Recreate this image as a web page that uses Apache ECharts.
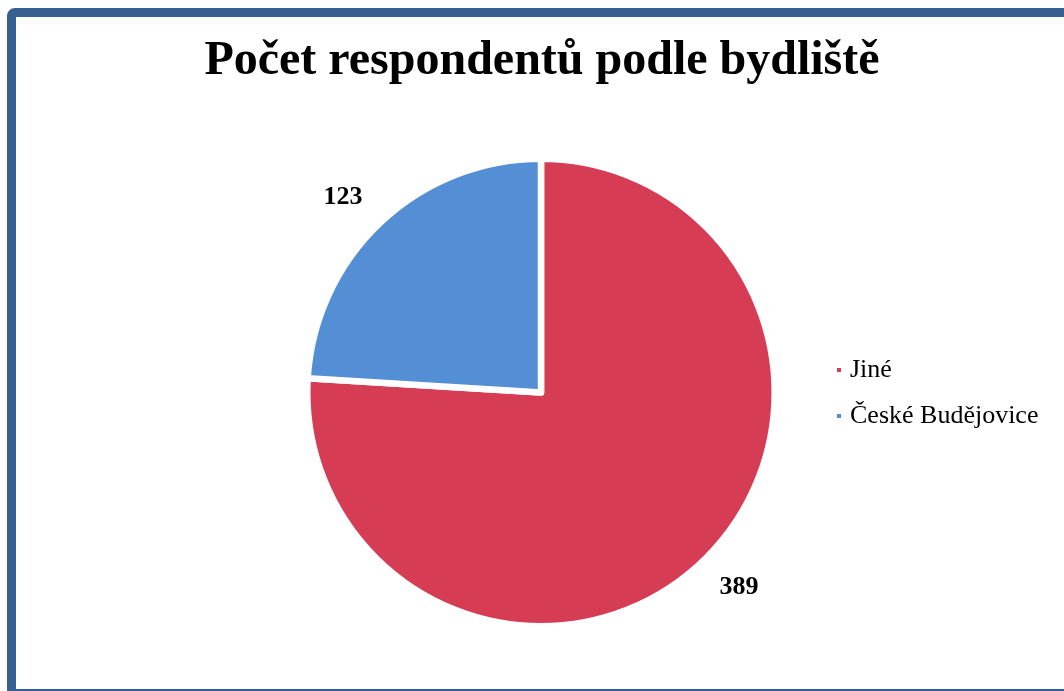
<!DOCTYPE html>
<html>
<head>
<meta charset="utf-8">
<title>Počet respondentů podle bydliště</title>
<script src="https://cdn.jsdelivr.net/npm/echarts@6/dist/echarts.min.js"></script>
<style>
  html, body {
    margin: 0;
    padding: 0;
    background: #fff;
    overflow: hidden;
  }
  .frame {
    position: absolute;
    left: 7px;
    top: 8px;
    width: 1080px;
    height: 672px;
    border: 9px solid #366092;
    border-radius: 8px;
  }
  #chart {
    position: absolute;
    left: 0;
    top: 0;
    width: 1064px;
    height: 691px;
  }
</style>
</head>
<body>
<div class="frame"></div>
<div id="chart"></div>
<script>
var categories = ["Jiné", "České Budějovice"];
var values = [389, 123];
var colors = ["#D63D55", "#548ED4"];

var pieData = [];
for (var i = 0; i < categories.length; i++) {
  pieData.push({
    name: categories[i],
    value: values[i],
    itemStyle: { color: colors[i] }
  });
}

var myChart = echarts.init(document.getElementById("chart"));
var option = {
  animation: false,
  title: {
    text: "Počet respondentů podle bydliště",
    left: 537,
    top: 33,
    textAlign: "center",
    textStyle: {
      fontFamily: "Liberation Serif",
      fontWeight: "bold",
      fontSize: 48,
      color: "#000"
    }
  },
  legend: {
    orient: "vertical",
    left: 830,
    top: 352,
    itemWidth: 6,
    itemHeight: 6,
    itemGap: 20,
    icon: "rect",
    data: categories,
    textStyle: {
      fontFamily: "Liberation Serif",
      fontSize: 26,
      color: "#000",
      padding: [0, 0, 0, 3]
    }
  },
  series: [
    {
      type: "pie",
      center: [541, 392.5],
      radius: 233.75,
      startAngle: 90,
      clockwise: true,
      itemStyle: {
        borderColor: "#fff",
        borderWidth: 6.5
      },
      label: {
        show: true,
        position: "outside",
        formatter: "{c}",
        distanceToLabelLine: -5,
        fontFamily: "Liberation Serif",
        fontWeight: "bold",
        fontSize: 26,
        color: "#000"
      },
      labelLine: {
        show: false,
        length: 34,
        length2: 0
      },
      emphasis: { disabled: true },
      data: pieData
    }
  ]
};
myChart.setOption(option);
</script>
</body>
</html>
